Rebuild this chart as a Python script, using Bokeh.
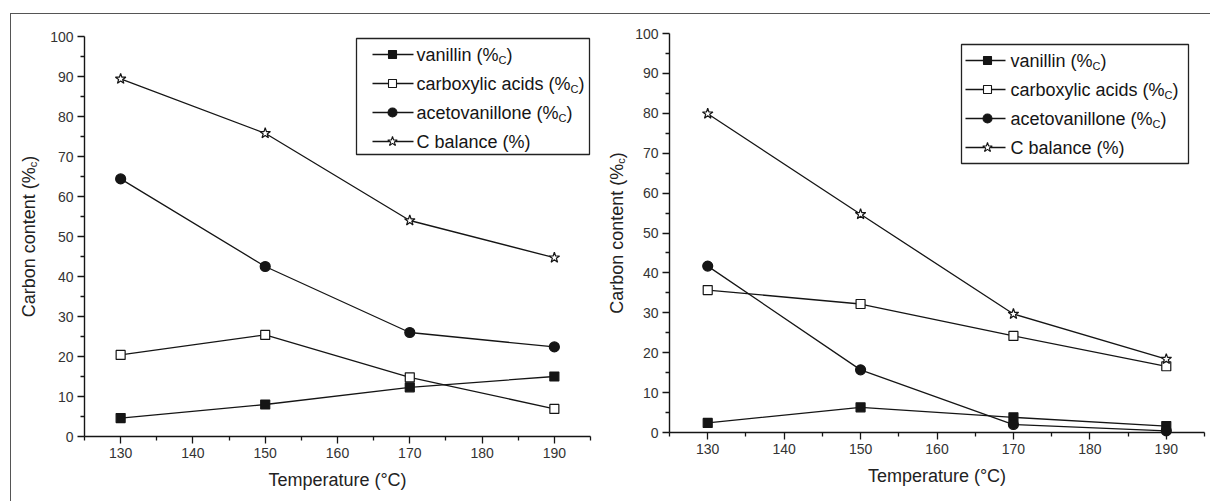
import math
from bokeh.plotting import figure
from bokeh.models import Range1d, FixedTicker, Label
from bokeh.layouts import row
from bokeh.embed import file_html
from bokeh.resources import INLINE

# ---------------- data ----------------
temperature = [130, 150, 170, 190]

left_vanillin = [4.6, 8.0, 12.3, 15.0]
left_carboxylic = [20.4, 25.4, 14.8, 6.9]
left_acetovanillone = [64.4, 42.5, 26.0, 22.4]
left_cbalance = [89.4, 75.8, 54.0, 44.7]

right_vanillin = [2.4, 6.3, 3.8, 1.6]
right_carboxylic = [35.7, 32.2, 24.2, 16.6]
right_acetovanillone = [41.7, 15.7, 2.0, 0.4]
right_cbalance = [79.9, 54.7, 29.7, 18.4]

x_ticks = [130, 140, 150, 160, 170, 180, 190]
x_minor = [125, 135, 145, 155, 165, 175, 185, 195]
y_ticks = [0, 10, 20, 30, 40, 50, 60, 70, 80, 90, 100]
y_minor = [5, 15, 25, 35, 45, 55, 65, 75, 85, 95]
x_bounds = (125, 195)
y_bounds = (0, 100)

legend_main = ["vanillin (%", "carboxylic acids (%", "acetovanillone (%", "C balance (%)"]
legend_sub = ["C", "C", "C", ""]
legend_close = [")", ")", ")", ""]
x_label = "Temperature (°C)"
y_label_main = "Carbon content (%"
y_label_sub = "c"
y_label_close = ")"

# ---------------- style ----------------
FONT = "Liberation Sans"
INK = "#151515"
MARKERS = [("square", INK, 9), ("square", "white", 9), ("circle", INK, 10), ("star", "white", 11)]

# Arial / Liberation Sans advance widths (per 1000 em)
W = {'v': 500, 'a': 556, 'n': 556, 'i': 222, 'l': 222, ' ': 278, '(': 333, '%': 889,
     'c': 500, 'r': 333, 'b': 556, 'o': 556, 'x': 500, 'y': 500, 'd': 556, 's': 500,
     'e': 556, 't': 278, 'C': 722, ')': 333}


def text_width(s, size):
    return sum(W.get(ch, 556) for ch in s) / 1000.0 * size


def make_panel(canvas, anchors, series, leg, ylab_x):
    # canvas: (left, top, width, height) in page pixels
    # anchors: page pixel of x=125, x=195, y=0, y=100
    cl, ct, width, height = canvas
    xa, xb, y0p, y100p = anchors
    xs = (x_bounds[1] - x_bounds[0]) / (xb - xa)
    ys = (y_bounds[1] - y_bounds[0]) / (y0p - y100p)
    x_start = x_bounds[0] + (cl - xa) * xs
    x_end = x_bounds[0] + (cl + width - xa) * xs
    y_top = y_bounds[1] + (y100p - ct) * ys
    y_bottom = y_bounds[0] - (ct + height - y0p) * ys

    p = figure(width=width, height=height,
               min_border_left=0, min_border_right=0,
               min_border_top=0, min_border_bottom=0,
               x_range=Range1d(x_start, x_end), y_range=Range1d(y_bottom, y_top),
               output_backend="svg", toolbar_location=None, tools="")
    # page-pixel helper ranges (y grows downward) for legend and labels
    p.extra_x_ranges = {"px": Range1d(cl, cl + width)}
    p.extra_y_ranges = {"px": Range1d(ct + height, ct)}
    p.xgrid.visible = False
    p.ygrid.visible = False
    p.outline_line_color = None
    p.background_fill_color = "white"
    p.border_fill_color = "white"

    p.xaxis.fixed_location = 0
    p.yaxis.fixed_location = 125
    p.xaxis.bounds = x_bounds
    p.yaxis.bounds = y_bounds
    p.xaxis.ticker = FixedTicker(ticks=x_ticks, minor_ticks=x_minor)
    p.yaxis.ticker = FixedTicker(ticks=y_ticks, minor_ticks=y_minor)
    for ax in (p.xaxis, p.yaxis):
        ax.axis_line_color = INK
        ax.axis_line_width = 1.4
        ax.major_tick_line_color = INK
        ax.major_tick_line_width = 1.3
        ax.minor_tick_line_color = INK
        ax.minor_tick_line_width = 1.3
        ax.major_tick_in = 0
        ax.major_tick_out = 7
        ax.minor_tick_in = 0
        ax.minor_tick_out = 4
        ax.major_label_text_font = FONT
        ax.major_label_text_font_size = "14px"
        ax.major_label_text_color = "#333333"
        ax.major_label_standoff = 4
    p.xaxis.axis_label = x_label
    p.xaxis.axis_label_text_font = FONT
    p.xaxis.axis_label_text_font_size = "18px"
    p.xaxis.axis_label_text_font_style = "normal"
    p.xaxis.axis_label_text_color = "#222222"
    p.xaxis.axis_label_standoff = 9

    for vals, (mk, fill, sz) in zip(series, MARKERS):
        p.line(temperature, vals, line_color=INK, line_width=1.3)
        p.scatter(temperature, vals, marker=mk, size=sz, fill_color=fill,
                  line_color=INK, line_width=1.2)

    # legend (page pixels)
    bl, br, bt, bb, rows, lx0, lx1, mx, tx, fs = leg
    p.quad(left=[bl], right=[br], top=[bt], bottom=[bb],
           x_range_name="px", y_range_name="px",
           fill_color="white", line_color="#222222", line_width=1.3)
    for i, (mk, fill, sz) in enumerate(MARKERS):
        yy = rows[i]
        p.line([lx0, lx1], [yy, yy], x_range_name="px", y_range_name="px",
               line_color=INK, line_width=1.3)
        p.scatter([mx], [yy], x_range_name="px", y_range_name="px", marker=mk,
                  size=sz - 1, fill_color=fill, line_color=INK, line_width=1.1)
        p.add_layout(Label(x=tx, y=yy, x_range_name="px", y_range_name="px",
                           text=legend_main[i], text_font=FONT, text_font_size=f"{fs}px",
                           text_baseline="middle", text_color=INK))
        if legend_sub[i]:
            w1 = text_width(legend_main[i], fs)
            ssz = round(fs * 0.6)
            p.add_layout(Label(x=tx + w1, y=yy + 5, x_range_name="px", y_range_name="px",
                               text=legend_sub[i], text_font=FONT, text_font_size=f"{ssz}px",
                               text_baseline="middle", text_color=INK))
            p.add_layout(Label(x=tx + w1 + text_width(legend_sub[i], ssz), y=yy,
                               x_range_name="px", y_range_name="px",
                               text=legend_close[i], text_font=FONT, text_font_size=f"{fs}px",
                               text_baseline="middle", text_color=INK))

    # rotated y-axis label with subscript (reads bottom to top)
    fsy = 18
    ssy = 11
    w_main = text_width(y_label_main, fsy)
    w_sub = text_width(y_label_sub, ssy)
    w_close = text_width(y_label_close, fsy)
    yc = (y0p + y100p) / 2
    ys0 = yc + (w_main + w_sub + w_close) / 2
    common = dict(x_range_name="px", y_range_name="px", text_font=FONT,
                  text_baseline="middle", text_align="left", angle=math.pi / 2,
                  text_color="#222222")
    p.add_layout(Label(x=ylab_x, y=ys0, text=y_label_main, text_font_size=f"{fsy}px", **common))
    p.add_layout(Label(x=ylab_x + 4, y=ys0 - w_main, text=y_label_sub, text_font_size=f"{ssy}px", **common))
    p.add_layout(Label(x=ylab_x, y=ys0 - w_main - w_sub, text=y_label_close, text_font_size=f"{fsy}px", **common))
    return p


left = make_panel((11, 14, 589, 487), (84, 590, 436, 36),
                  [left_vanillin, left_carboxylic, left_acetovanillone, left_cbalance],
                  (356, 589, 38, 154, [54, 83, 112, 141], 372, 413, 392, 416, 18),
                  28)
right = make_panel((600, 14, 610, 487), (669, 1204, 432, 33),
                   [right_vanillin, right_carboxylic, right_acetovanillone, right_cbalance],
                   (961, 1188, 44, 163, [60, 89, 118, 147], 965, 1005, 987, 1010, 18),
                   616)

layout = row(left, right, margin=(13, 0, 0, 10),
             styles={"border-top": "1px solid #555555", "border-left": "1px solid #555555"})

open("out.html", "w").write(file_html(layout, INLINE))
